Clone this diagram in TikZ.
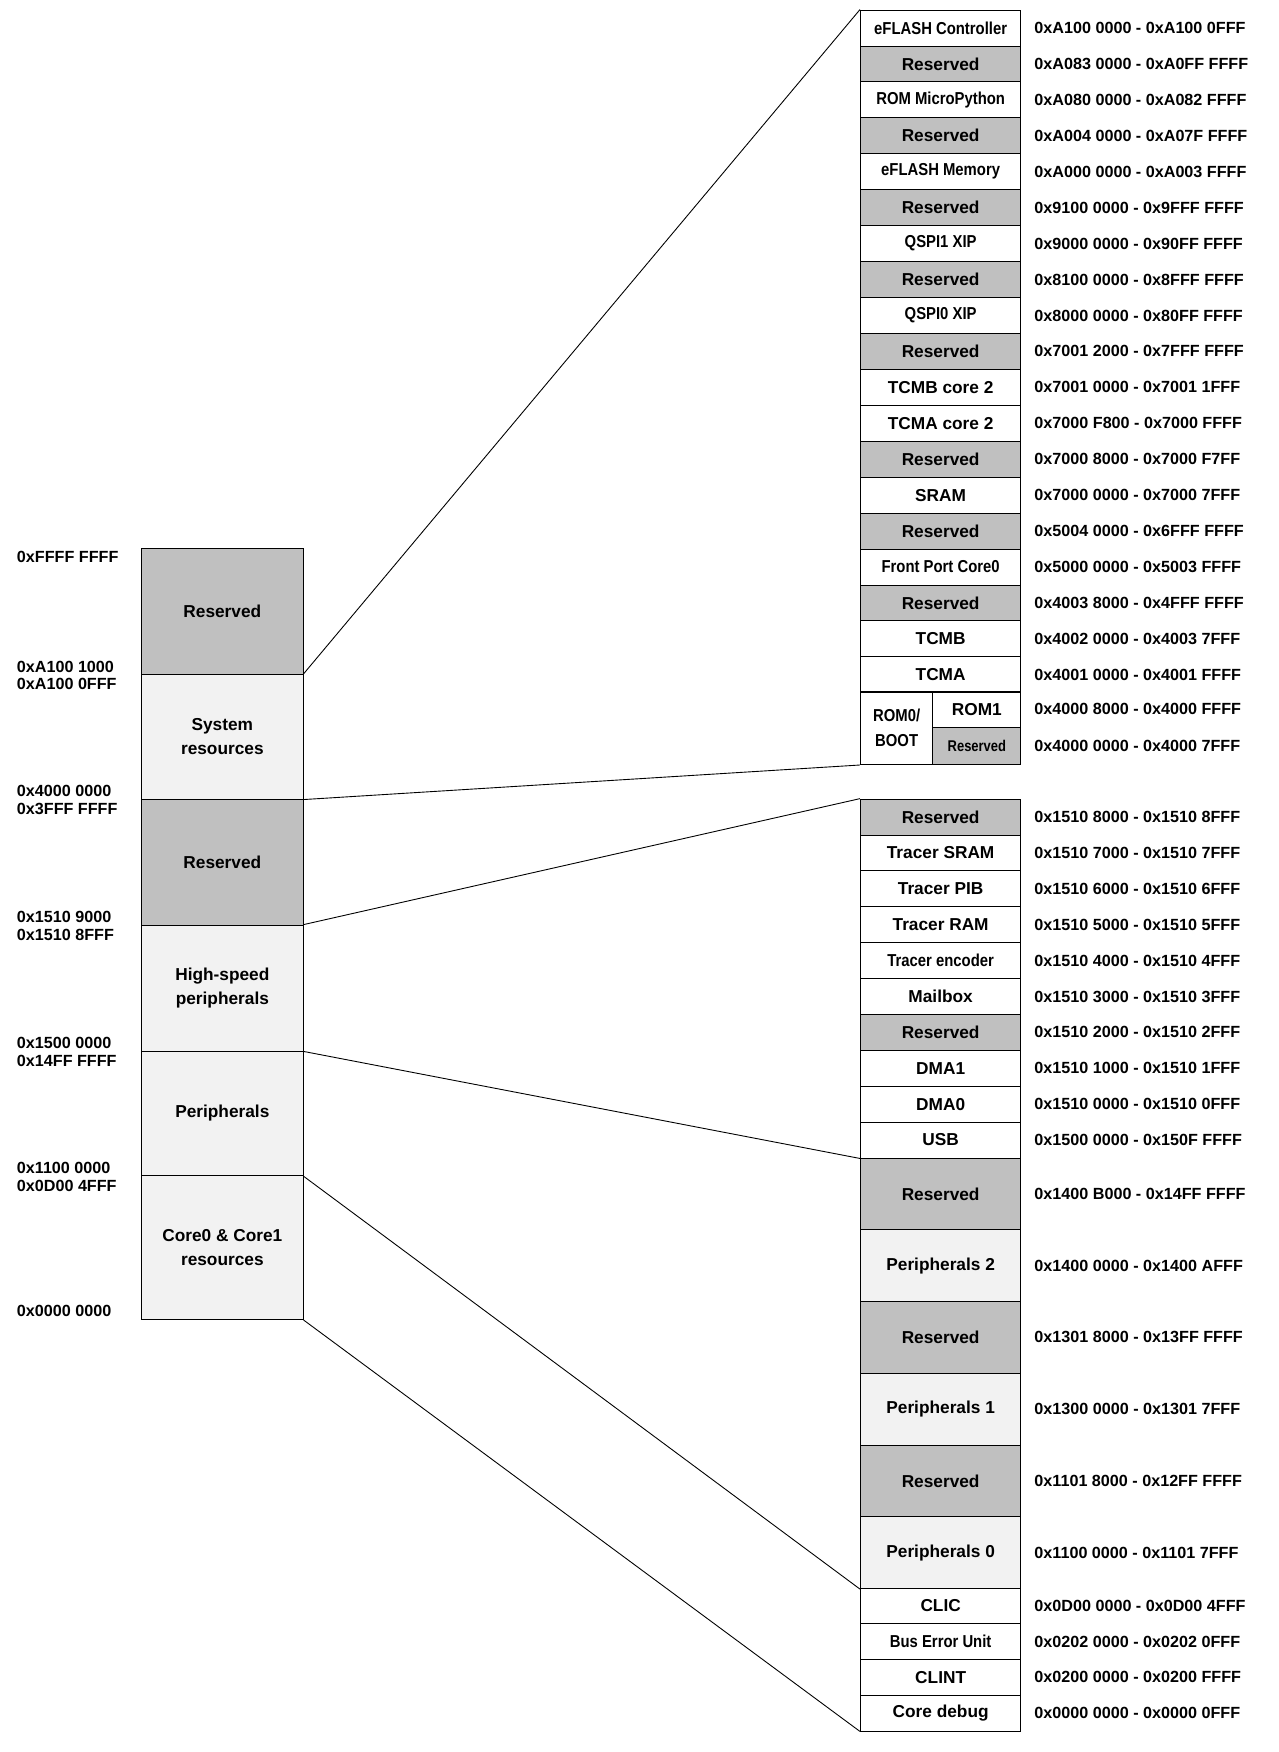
\documentclass[tikz,border=0pt]{standalone}
\usepackage{fontspec}
\usepackage{graphicx}
\setmainfont{Liberation Sans}
\usetikzlibrary{positioning}
\definecolor{resgray}{HTML}{C0C0C0}
\definecolor{lightgray}{HTML}{F2F2F2}
\newcommand{\narrow}[1]{\scalebox{0.86}[1]{#1}}
\tikzset{
  cell/.style={draw,thick,minimum width=144pt,minimum height=32.24pt,inner sep=0pt,
    font=\fontsize{15.5}{20}\selectfont\bfseries,align=center},
  bigcell/.style={cell,minimum height=64.4pt},
  leftcell/.style={cell,minimum width=145pt,fill=lightgray,font=\fontsize{15.5}{22}\selectfont\bfseries},
  addr/.style={anchor=west,inner sep=0pt,font=\fontsize{14.5}{16}\selectfont\bfseries},
  laddr/.style={anchor=west,inner sep=0pt,font=\fontsize{14.5}{16}\selectfont\bfseries,align=left},
  link/.style={thick}
}
\begin{document}
\begin{tikzpicture}[x=1pt,y=-1pt]
\useasboundingbox (0,0) rectangle (1147,1572);
% upper map
\foreach \t/\c/\a [count=\i] in {
  \narrow{eFLASH Controller}/white/0xA100 0000 - 0xA100 0FFF,
  Reserved/resgray/0xA083 0000 - 0xA0FF FFFF,
  \narrow{ROM MicroPython}/white/0xA080 0000 - 0xA082 FFFF,
  Reserved/resgray/0xA004 0000 - 0xA07F FFFF,
  \narrow{eFLASH Memory}/white/0xA000 0000 - 0xA003 FFFF,
  Reserved/resgray/0x9100 0000 - 0x9FFF FFFF,
  \narrow{QSPI1 XIP}/white/0x9000 0000 - 0x90FF FFFF,
  Reserved/resgray/0x8100 0000 - 0x8FFF FFFF,
  \narrow{QSPI0 XIP}/white/0x8000 0000 - 0x80FF FFFF,
  Reserved/resgray/0x7001 2000 - 0x7FFF FFFF,
  TCMB core 2/white/0x7001 0000 - 0x7001 1FFF,
  TCMA core 2/white/0x7000 F800 - 0x7000 FFFF,
  Reserved/resgray/0x7000 8000 - 0x7000 F7FF,
  SRAM/white/0x7000 0000 - 0x7000 7FFF,
  Reserved/resgray/0x5004 0000 - 0x6FFF FFFF,
  \narrow{Front Port Core0}/white/0x5000 0000 - 0x5003 FFFF,
  Reserved/resgray/0x4003 8000 - 0x4FFF FFFF,
  TCMB/white/0x4002 0000 - 0x4003 7FFF,
  TCMA/white/0x4001 0000 - 0x4001 FFFF}{
  \node[cell,fill=\c] (u\i) at (844,{9+32.24*(\i-0.5)}) {\t};
  \node[addr] at (928,{9+32.24*(\i-0.5)}) {\a};
}
\node[cell,minimum width=65pt,minimum height=66pt,font=\fontsize{15.5}{22}\selectfont\bfseries] (rom0) at (804.5,653) {\narrow{ROM0/}\\\narrow{BOOT}};
\node[cell,minimum width=79pt,minimum height=33pt] (rom1) at (876.5,636.5) {ROM1};
\node[cell,minimum width=79pt,minimum height=33pt,fill=resgray] (romr) at (876.5,669.5) {\scalebox{0.75}[0.9]{Reserved}};
\node[addr] at (928,636.5) {0x4000 8000 - 0x4000 FFFF};
\node[addr] at (928,669.5) {0x4000 0000 - 0x4000 7FFF};
% lower map
\foreach \t/\c/\a [count=\i] in {
  Reserved/resgray/0x1510 8000 - 0x1510 8FFF,
  Tracer SRAM/white/0x1510 7000 - 0x1510 7FFF,
  Tracer PIB/white/0x1510 6000 - 0x1510 6FFF,
  Tracer RAM/white/0x1510 5000 - 0x1510 5FFF,
  \narrow{Tracer encoder}/white/0x1510 4000 - 0x1510 4FFF,
  Mailbox/white/0x1510 3000 - 0x1510 3FFF,
  Reserved/resgray/0x1510 2000 - 0x1510 2FFF,
  DMA1/white/0x1510 1000 - 0x1510 1FFF,
  DMA0/white/0x1510 0000 - 0x1510 0FFF,
  USB/white/0x1500 0000 - 0x150F FFFF}{
  \node[cell,fill=\c] (h\i) at (844,{717+32.2*(\i-0.5)}) {\t};
  \node[addr] at (928,{717+32.2*(\i-0.5)}) {\a};
}
\foreach \t/\c/\a [count=\i] in {
  Reserved/resgray/0x1400 B000 - 0x14FF FFFF,
  Peripherals 2/lightgray/0x1400 0000 - 0x1400 AFFF,
  Reserved/resgray/0x1301 8000 - 0x13FF FFFF,
  Peripherals 1/lightgray/0x1300 0000 - 0x1301 7FFF,
  Reserved/resgray/0x1101 8000 - 0x12FF FFFF,
  Peripherals 0/lightgray/0x1100 0000 - 0x1101 7FFF}{
  \node[bigcell,fill=\c] (p\i) at (844,{1039+64.4*(\i-0.5)}) {\t};
  \node[addr] at (928,{1039+64.4*(\i-0.5)}) {\a};
}
\foreach \t/\a [count=\i] in {
  CLIC/0x0D00 0000 - 0x0D00 4FFF,
  \narrow{Bus Error Unit}/0x0202 0000 - 0x0202 0FFF,
  CLINT/0x0200 0000 - 0x0200 FFFF,
  Core debug/0x0000 0000 - 0x0000 0FFF}{
  \node[cell,fill=white] (c\i) at (844,{1425+32*(\i-0.5)}) {\t};
  \node[addr] at (928,{1425+32*(\i-0.5)}) {\a};
}
% overall map
\node[leftcell,minimum height=113pt,fill=resgray] (lres1) at (199.5,548.5) {Reserved};
\node[leftcell,minimum height=112pt] (lsys) at (199.5,661) {System\\resources};
\node[leftcell,minimum height=113pt,fill=resgray] (lres2) at (199.5,773.5) {Reserved};
\node[leftcell,minimum height=113pt] (lhs) at (199.5,886.5) {High-speed\\peripherals};
\node[leftcell,minimum height=112pt] (lper) at (199.5,999) {Peripherals};
\node[leftcell,minimum height=129pt] (lcore) at (199.5,1119.5) {Core0 \& Core1\\resources};
\node[laddr] at (15,500) {0xFFFF FFFF};
\node[laddr] at (15,606) {0xA100 1000\\0xA100 0FFF};
\node[laddr] at (15,718) {0x4000 0000\\0x3FFF FFFF};
\node[laddr] at (15,831) {0x1510 9000\\0x1510 8FFF};
\node[laddr] at (15,944) {0x1500 0000\\0x14FF FFFF};
\node[laddr] at (15,1056) {0x1100 0000\\0x0D00 4FFF};
\node[laddr] at (15,1176) {0x0000 0000};
% zoom lines
\draw[link] (lsys.north east) -- (u1.north west);
\draw[link] (lsys.south east) -- (rom0.south west);
\draw[link] (lhs.north east) -- (h1.north west);
\draw[link] (lhs.south east) -- (h10.south west);
\draw[link] (lper.south east) -- (p6.south west);
\draw[link] (lcore.south east) -- (c4.south west);
\end{tikzpicture}
\end{document}
